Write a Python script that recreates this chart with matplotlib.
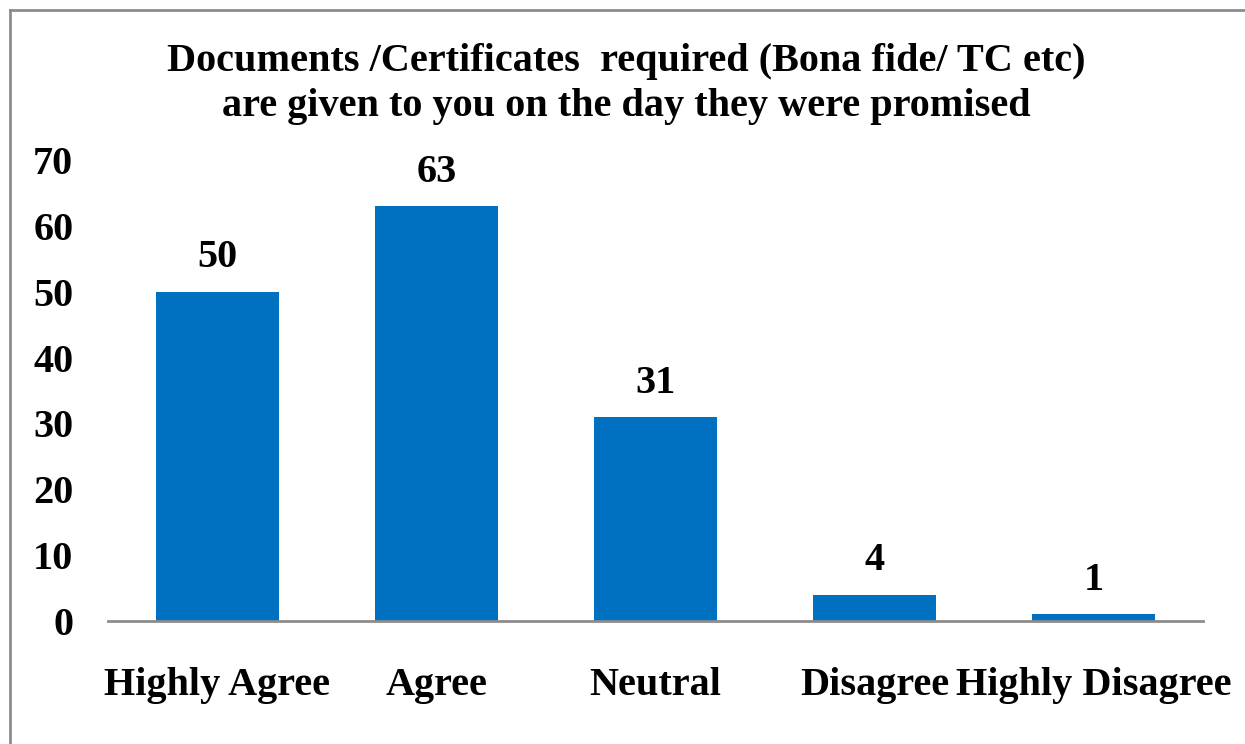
import matplotlib
matplotlib.use('Agg')
import matplotlib.pyplot as plt
from matplotlib.lines import Line2D

categories = ['Highly Agree', 'Agree', 'Neutral', 'Disagree', 'Highly Disagree']
counts = [50, 63, 31, 4, 1]
yticks = [0, 10, 20, 30, 40, 50, 60, 70]
title = 'Documents /Certificates  required (Bona fide/ TC etc)\nare given to you on the day they were promised'

plt.rcParams['font.family'] = ['Liberation Serif', 'DejaVu Serif']
plt.rcParams['font.weight'] = 'bold'

W, H = 1245, 744
fig = plt.figure(figsize=(W / 100, H / 100), dpi=100)
ax = fig.add_axes([108 / W, 1 - 621 / H, (1203 - 108) / W, (621 - 160) / H])

x = range(len(categories))
bars = ax.bar(x, counts, width=0.566, color='#0070C0', zorder=3)
for xi, v in zip(x, counts):
    ax.annotate(str(v), (xi, v), xytext=(0, 11), textcoords='offset points',
                ha='center', va='bottom', fontsize=29, fontweight='bold')

ax.set_xlim(-0.5, len(categories) - 0.5)
ax.set_ylim(0, 70)
ax.set_yticks(yticks)
ax.set_yticklabels([str(t) for t in yticks], fontsize=29, fontweight='bold')
ax.set_xticks(list(x))
ax.set_xticklabels(categories, fontsize=29, fontweight='bold')
ax.tick_params(axis='both', length=0)
ax.tick_params(axis='y', pad=25)
ax.tick_params(axis='x', pad=33)
for s in ['top', 'right', 'left']:
    ax.spines[s].set_visible(False)
ax.spines['bottom'].set_color('#8c8c8c')
ax.spines['bottom'].set_linewidth(2)
ax.spines['bottom'].set_zorder(4)

fig.text(0.503, 1 - 84 / H, title, ha='center', va='center', fontsize=29,
         fontweight='bold', linespacing=1.3)

# chart area border (only left and top visible in the crop)
bx, by = 9.5 / W, 1 - 9.5 / H
fig.add_artist(Line2D([bx, bx], [0, by], transform=fig.transFigure, color='#8c8c8c', lw=2))
fig.add_artist(Line2D([bx, 1], [by, by], transform=fig.transFigure, color='#8c8c8c', lw=2))

fig.savefig('out.png', dpi=100)
